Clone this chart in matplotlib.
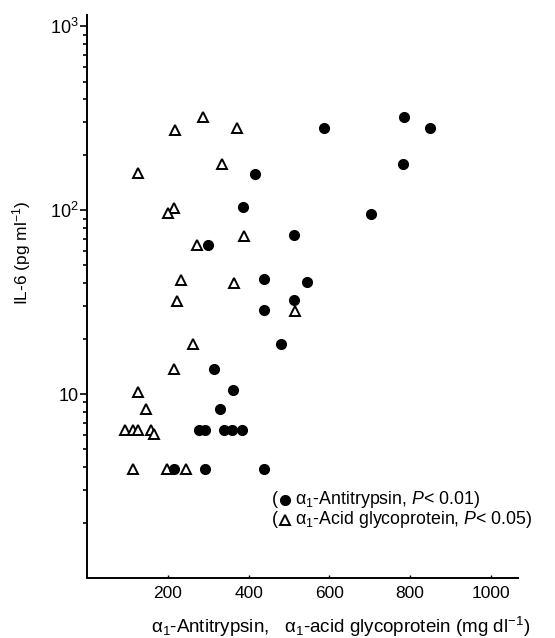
import numpy as np
import matplotlib
matplotlib.use("Agg")
import matplotlib.pyplot as plt
from matplotlib.lines import Line2D
from matplotlib.ticker import FixedLocator, FixedFormatter, LogLocator, NullFormatter

plt.rcParams['font.family'] = ['Liberation Sans', 'DejaVu Sans']
plt.rcParams['mathtext.fontset'] = 'custom'
plt.rcParams['mathtext.rm'] = 'Liberation Sans'
plt.rcParams['mathtext.it'] = 'Liberation Sans:italic'

# alpha1-antitrypsin (filled circles)
at_x = [849, 785, 587, 782, 703, 416, 386, 512, 300, 437, 545, 512, 437,
        480, 314, 361, 329, 277, 293, 338, 359, 384, 215, 293, 437]
at_y = [279, 320, 279, 178, 95, 157, 104, 73, 64.5, 42.2, 40.6, 32.4, 28.6,
        18.6, 13.6, 10.5, 8.34, 6.34, 6.34, 6.34, 6.34, 6.34, 3.89, 3.89, 3.89]

# alpha1-acid glycoprotein (open triangles)
ag_x = [287, 218, 371, 334, 127, 215, 200, 389, 272, 233, 364, 223, 515,
        262, 215, 127, 146, 94, 113, 127, 158, 166, 113, 198, 245]
ag_y = [320, 272, 279, 178, 159, 102.5, 96, 72, 64.5, 41.7, 40.1, 32, 28.3,
        18.6, 13.6, 10.25, 8.34, 6.34, 6.34, 6.34, 6.4, 6.06, 3.89, 3.89, 3.89]

xticks = [200, 400, 600, 800, 1000]
yticks = [10, 100, 1000]
ylabels = ['10', '10$^2$', '10$^3$']

W, H = 555., 638.
fig = plt.figure(figsize=(5.55, 6.38), dpi=100)
ax = fig.add_axes([87/W, 60/H, 431/W, 563/H])

tri = dict(ls='none', marker='^', ms=7.5, mfc='white', mec='black', mew=1.4)
dot = dict(ls='none', marker='o', ms=7, mfc='black', mec='black')
ax.plot(ag_x, ag_y, **tri)
ax.plot(at_x, at_y, **dot)

ax.set_yscale('log')
ax.set_ylim(1, 1150)
ax.set_xlim(0, 1067)

ax.xaxis.set_major_locator(FixedLocator(xticks))
ax.yaxis.set_major_locator(FixedLocator(yticks))
ax.yaxis.set_major_formatter(FixedFormatter(ylabels))
ax.yaxis.set_minor_locator(LogLocator(base=10, subs=np.arange(2, 10)))
ax.yaxis.set_minor_formatter(NullFormatter())

ax.spines['top'].set_visible(False)
ax.spines['right'].set_visible(False)
ax.spines['left'].set_linewidth(1.4)
ax.spines['bottom'].set_linewidth(1.4)
ax.tick_params(axis='y', which='major', length=5, width=1.2, labelsize=13, pad=1)
ax.tick_params(axis='y', which='minor', length=3, width=1.2)
ax.tick_params(axis='x', which='major', direction='in', length=2, width=1,
               labelsize=12.5, pad=6)

fig.text(22/W, 1 - 253/H, 'IL-6 (pg ml$^{-1}$)', rotation=90,
         ha='center', va='center', fontsize=12.5)
fig.text(341/W, 1 - 627/H, u'\u03b1$_1$-Antitrypsin,   \u03b1$_1$-acid glycoprotein (mg dl$^{-1}$)',
         ha='center', va='center', fontsize=13.5)

# legend as in the figure: "(marker text)"
for yy, mk, txt in [(500, dot, u'\u03b1$_1$-Antitrypsin, $P$< 0.01)'),
                    (520, tri, u'\u03b1$_1$-Acid glycoprotein, $P$< 0.05)')]:
    fig.text(272/W, 1 - yy/H, '(', ha='left', va='center', fontsize=12.8)
    fig.add_artist(Line2D([285/W], [1 - yy/H], transform=fig.transFigure, **mk))
    fig.text(295/W, 1 - yy/H, txt, ha='left', va='center', fontsize=12.8)

fig.savefig('out.png', dpi=100)
